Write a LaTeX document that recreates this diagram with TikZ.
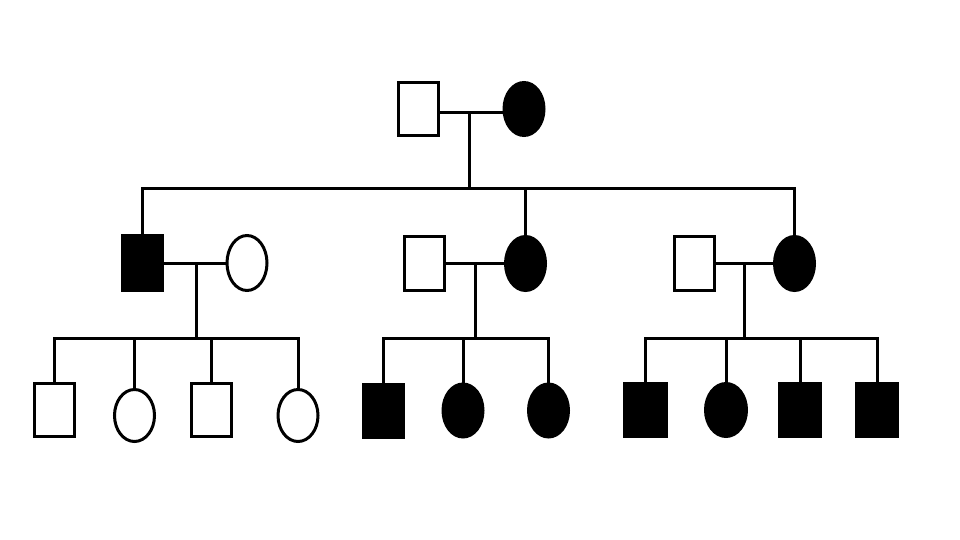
\documentclass[tikz,border=0pt]{standalone}
\usetikzlibrary{shapes.geometric}
\begin{document}
\begin{tikzpicture}[x=1pt,y=-1pt,line width=3pt,
  male/.style={draw=black,rectangle,minimum width=40pt,minimum height=53pt,inner sep=0pt},
  female/.style={draw=black,ellipse,minimum width=40pt,minimum height=53pt,inner sep=0pt},
  aff/.style={fill=black},
  link/.style={draw=black,line width=3pt,line join=miter}]
\useasboundingbox (0,0) rectangle (960,540);
% Generation I
\node[male] (I1) at (418.5,109.5) {};
\node[female,aff] (I2) at (524,109) {};
\coordinate (m1) at (469,113);
\coordinate (s1) at (469,188);
% Generation II
\node[male,aff,minimum height=55pt] (A1) at (142.5,263) {};
\node[female,minimum height=55pt] (A2) at (247,263) {};
\node[male,minimum height=54pt] (B1) at (424.5,263) {};
\node[female,aff,minimum height=54pt] (B2) at (525.5,263.5) {};
\node[male,minimum height=54pt] (C1) at (694.5,263.5) {};
\node[female,aff,minimum height=54pt] (C2) at (794.5,263.5) {};
\coordinate (m2) at (196,263);
\coordinate (s2) at (196,338);
\coordinate (m3) at (475,263);
\coordinate (s3) at (475,338);
\coordinate (m4) at (744,263);
\coordinate (s4) at (744,338);
% Generation III
\node[male] (a1) at (54,410) {};
\node[female,minimum height=52pt] (a2) at (134.5,415.5) {};
\node[male] (a3) at (211.5,410) {};
\node[female,minimum height=52pt] (a4) at (298,415.5) {};
\node[male,aff] (b1) at (383.5,410.5) {};
\node[female,aff] (b2) at (463,410.5) {};
\node[female,aff] (b3) at (548.5,410.5) {};
\node[male,aff,minimum width=42pt] (c1) at (645.5,410) {};
\node[female,aff,minimum width=41pt] (c2) at (726,410) {};
\node[male,aff,minimum width=41pt] (c3) at (800,410) {};
\node[male,aff,minimum width=41pt] (c4) at (877,410) {};
% Connectors generation I
\draw[link] (I1.east |- m1) -- (m1 -| I2.west);
\draw[link] (m1) -- (s1);
\draw[link] (A1.north) -- (A1.north |- s1) -- (C2.north |- s1) -- (C2.north);
\draw[link] (B2.north |- s1) -- (B2.north);
% Family A
\draw[link] (A1.east |- m2) -- (m2 -| A2.west);
\draw[link] (m2) -- (s2);
\draw[link] (a1.north) -- (a1.north |- s2) -- (a4.north |- s2) -- (a4.north);
\draw[link] (a2.north |- s2) -- (a2.north);
\draw[link] (a3.north |- s2) -- (a3.north);
% Family B
\draw[link] (B1.east |- m3) -- (m3 -| B2.west);
\draw[link] (m3) -- (s3);
\draw[link] (b1.north) -- (b1.north |- s3) -- (b3.north |- s3) -- (b3.north);
\draw[link] (b2.north |- s3) -- (b2.north);
% Family C
\draw[link] (C1.east |- m4) -- (m4 -| C2.west);
\draw[link] (m4) -- (s4);
\draw[link] (c1.north) -- (c1.north |- s4) -- (c4.north |- s4) -- (c4.north);
\draw[link] (c2.north |- s4) -- (c2.north);
\draw[link] (c3.north |- s4) -- (c3.north);
\end{tikzpicture}
\end{document}
